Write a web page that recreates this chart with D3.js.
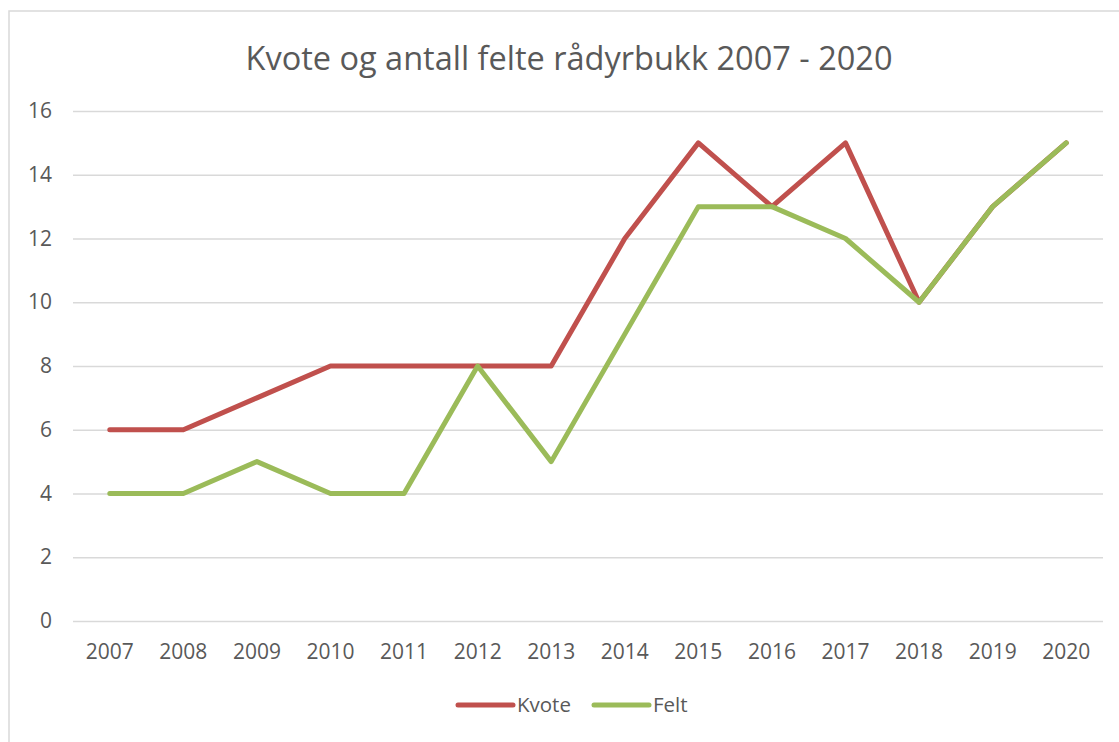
<!DOCTYPE html>
<html><head><meta charset="utf-8">
<script src="https://cdn.jsdelivr.net/npm/d3@7"></script>
<style>body{margin:0;background:#fff}svg{display:block}</style>
</head><body><svg id="c" width="1119" height="742"></svg>
<script>
const years = ["2007","2008","2009","2010","2011","2012","2013","2014","2015","2016","2017","2018","2019","2020"];
const kvote = [6,6,7,8,8,8,8,12,15,13,15,10,13,15];
const felt  = [4,4,5,4,4,8,5,9,13,13,12,10,13,15];
const yTicks = [0,2,4,6,8,10,12,14,16];
const title = "Kvote og antall felte rådyrbukk 2007 - 2020";
const seriesNames = ["Kvote","Felt"];
const colors = ["#C0504D","#9BBB59"];

const svg = d3.select("#c");
const font = "Open Sans, Liberation Sans, sans-serif";
// chart border
svg.append("rect").attr("x",9).attr("y",11).attr("width",1200).attr("height",800)
  .attr("fill","#fff").attr("stroke","#D9D9D9").attr("stroke-width",1.5);

const x = d3.scaleBand().domain(years).range([73,1103]);
const y = d3.scaleLinear().domain([0,16]).range([621,111]);

svg.append("text").attr("x",569).attr("y",70).attr("text-anchor","middle")
  .attr("font-family",font).attr("font-size",32.5).attr("fill","#595959").text(title);

const gy = svg.append("g").attr("transform","translate(73,0)")
  .call(d3.axisLeft(y).tickValues(yTicks).tickSize(-1030).tickPadding(21));
gy.select(".domain").remove();
gy.selectAll(".tick line").attr("stroke","#D9D9D9").attr("stroke-width",1.5);
gy.selectAll(".tick text").attr("font-family",font).attr("font-size",21).attr("fill","#595959");

const gx = svg.append("g").attr("transform","translate(0,621)")
  .call(d3.axisBottom(x).tickSize(0).tickPadding(23));
gx.select(".domain").remove();
gx.selectAll(".tick text").attr("font-family",font).attr("font-size",21).attr("fill","#595959");

const line = d3.line().x((d,i)=>x(years[i])+x.bandwidth()/2).y(d=>y(d));
[kvote,felt].forEach((s,k)=>{
  svg.append("path").datum(s).attr("d",line).attr("fill","none")
    .attr("stroke",colors[k]).attr("stroke-width",5)
    .attr("stroke-linejoin","round").attr("stroke-linecap","round");
});

const legX = [458,594];
seriesNames.forEach((n,k)=>{
  svg.append("line").attr("x1",legX[k]).attr("x2",legX[k]+55).attr("y1",705).attr("y2",705)
    .attr("stroke",colors[k]).attr("stroke-width",5).attr("stroke-linecap","round");
  svg.append("text").attr("x",legX[k]+59).attr("y",712).attr("font-family",font)
    .attr("font-size",20.5).attr("fill","#595959").text(n);
});
</script></body></html>
